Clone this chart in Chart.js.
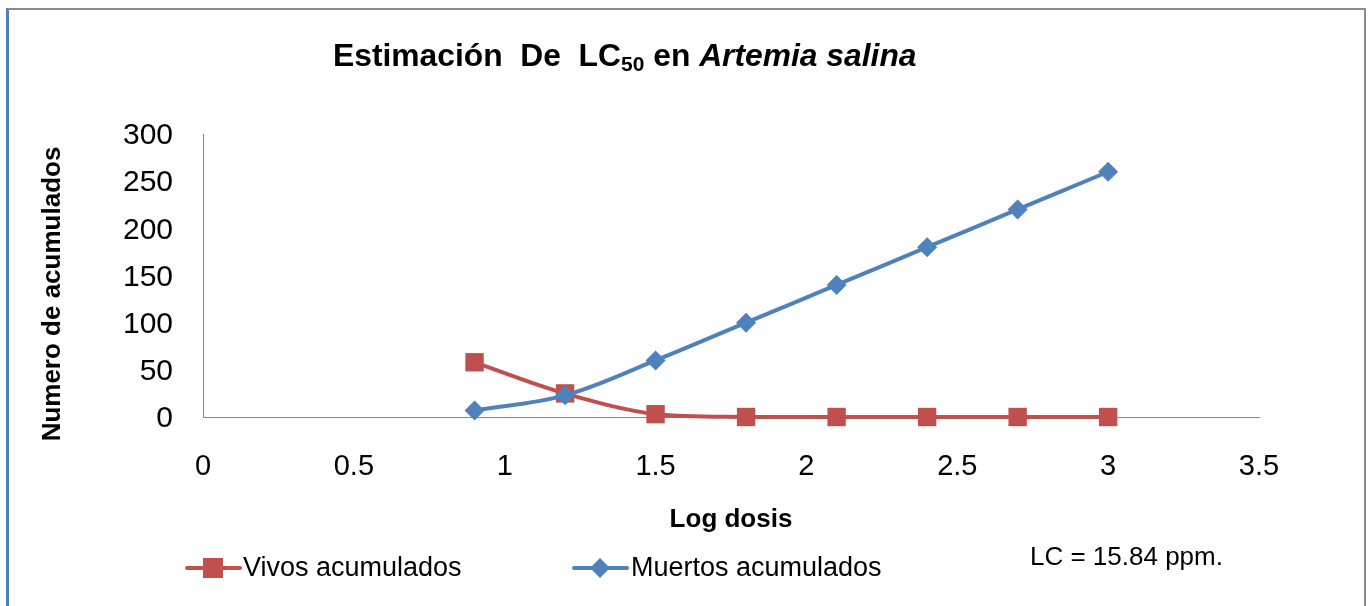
<!DOCTYPE html>
<html>
<head>
<meta charset="utf-8">
<title>Estimación De LC50 en Artemia salina</title>
<script src="https://cdn.jsdelivr.net/npm/chart.js@4.4.1/dist/chart.umd.min.js"></script>
<style>
  html, body { margin: 0; padding: 0; background: #fff; }
  #wrap {
    position: absolute; left: 0; top: 0; width: 1372px; height: 606px;
  }
  #frame {
    position: absolute; left: 6px; top: 8px; width: 1360px; height: 598px;
    border-top: 2px solid #8c8c8c; border-left: 3px solid #4f81bd; border-right: 2px solid #8c8c8c;
    box-sizing: border-box; pointer-events: none;
  }
  canvas { position: absolute; left: 0; top: 0; }
</style>
</head>
<body>
<div id="wrap">
  <canvas id="c" width="1372" height="606"></canvas>
  <div id="frame"></div>
</div>
<script>
// Log dose values and cumulative counts
const logDosis = [0.9, 1.2, 1.5, 1.8, 2.1, 2.4, 2.7, 3.0];
const vivosAcumulados = [58, 25, 3, 0, 0, 0, 0, 0];
const muertosAcumulados = [7, 23, 60, 100, 140, 180, 220, 260];

const xTicks = [0, 0.5, 1, 1.5, 2, 2.5, 3, 3.5];
const yTicks = [0, 50, 100, 150, 200, 250, 300];

const seriesNames = ['Vivos acumulados', 'Muertos acumulados'];
const titleParts = ['Estimación  De  LC', '50', ' en ', 'Artemia salina'];
const xTitle = 'Log dosis';
const yTitle = 'Numero de acumulados';
const noteText = 'LC = 15.84 ppm.';

const RED = '#c0504d';
const BLUE = '#4f81bd';
const FONT = '"Liberation Sans", Arial, sans-serif';

const toPoints = (xs, ys) => xs.map((x, i) => ({ x: x, y: ys[i] }));

// Text, legend and note drawn around the plot
const decorations = {
  id: 'decorations',
  afterDraw(chart) {
    const ctx = chart.ctx;
    ctx.save();
    ctx.fillStyle = '#000';
    ctx.textBaseline = 'alphabetic';
    ctx.textAlign = 'left';

    // Title with subscript and italic species name
    let x = 333;
    const by = 66;
    ctx.font = 'bold 31.8px ' + FONT;
    ctx.fillText(titleParts[0], x, by);
    x += ctx.measureText(titleParts[0]).width;
    ctx.font = 'bold 21px ' + FONT;
    ctx.fillText(titleParts[1], x, by + 5);
    x += ctx.measureText(titleParts[1]).width;
    ctx.font = 'bold 31.8px ' + FONT;
    ctx.fillText(titleParts[2], x, by);
    x += ctx.measureText(titleParts[2]).width;
    ctx.font = 'italic bold 31.8px ' + FONT;
    ctx.fillText(titleParts[3], x, by);

    // Axis titles
    ctx.font = 'bold 26px ' + FONT;
    ctx.textAlign = 'center';
    ctx.textBaseline = 'middle';
    ctx.fillText(xTitle, 731, 520);
    ctx.save();
    ctx.translate(53, 294);
    ctx.rotate(-Math.PI / 2);
    ctx.fillText(yTitle, 0, 0);
    ctx.restore();

    // Legend
    const ly = 568;
    ctx.lineWidth = 4;
    ctx.lineCap = 'round';
    ctx.strokeStyle = RED;
    ctx.beginPath(); ctx.moveTo(187, ly); ctx.lineTo(240, ly); ctx.stroke();
    ctx.fillStyle = RED;
    ctx.fillRect(203, ly - 10, 20, 20);
    ctx.strokeStyle = BLUE;
    ctx.beginPath(); ctx.moveTo(574, ly); ctx.lineTo(627, ly); ctx.stroke();
    ctx.fillStyle = BLUE;
    ctx.beginPath();
    ctx.moveTo(600, ly - 10); ctx.lineTo(610, ly); ctx.lineTo(600, ly + 10); ctx.lineTo(590, ly);
    ctx.closePath(); ctx.fill();

    ctx.fillStyle = '#000';
    ctx.textAlign = 'left';
    ctx.font = '27px ' + FONT;
    ctx.fillText(seriesNames[0], 243, ly + 1);
    ctx.fillText(seriesNames[1], 631, ly + 1);
    ctx.font = '26px ' + FONT;
    ctx.fillText(noteText, 1030, 558);
    ctx.restore();
  }
};

new Chart(document.getElementById('c'), {
  type: 'line',
  data: {
    datasets: [
      {
        label: seriesNames[0],
        data: toPoints(logDosis, vivosAcumulados),
        borderColor: RED,
        backgroundColor: RED,
        borderWidth: 4,
        pointStyle: 'rect',
        pointRadius: 13,
        pointBorderWidth: 0,
        tension: 0.35,
        clip: false,
        order: 1
      },
      {
        label: seriesNames[1],
        data: toPoints(logDosis, muertosAcumulados),
        borderColor: BLUE,
        backgroundColor: BLUE,
        borderWidth: 4,
        pointStyle: 'rectRot',
        pointRadius: 10,
        pointBorderWidth: 0,
        tension: 0.35,
        clip: false,
        order: 0
      }
    ]
  },
  options: {
    responsive: false,
    animation: false,
    devicePixelRatio: 1,
    layout: { padding: { left: 0, right: 113, top: 134, bottom: 0 } },
    plugins: { legend: { display: false }, title: { display: false }, tooltip: { enabled: false } },
    scales: {
      x: {
        type: 'linear',
        min: 0, max: 3.5,
        afterBuildTicks(s) { s.ticks = xTicks.map(v => ({ value: v })); },
        afterFit(s) { s.height = 606 - 417; },
        grid: { display: false, drawTicks: false },
        border: { display: true, color: '#868686', width: 1 },
        ticks: {
          padding: 33,
          color: '#000',
          font: { family: FONT, size: 29 },
          maxRotation: 0,
          callback: v => String(v)
        }
      },
      y: {
        min: 0, max: 300,
        afterBuildTicks(s) { s.ticks = yTicks.map(v => ({ value: v })); },
        afterFit(s) { s.width = 203; },
        grid: { display: false, drawTicks: false },
        border: { display: true, color: '#868686', width: 1 },
        ticks: {
          padding: 30,
          labelOffset: 2,
          color: '#000',
          font: { family: FONT, size: 30 },
          callback: v => String(v)
        }
      }
    }
  },
  plugins: [decorations]
});
</script>
</body>
</html>
